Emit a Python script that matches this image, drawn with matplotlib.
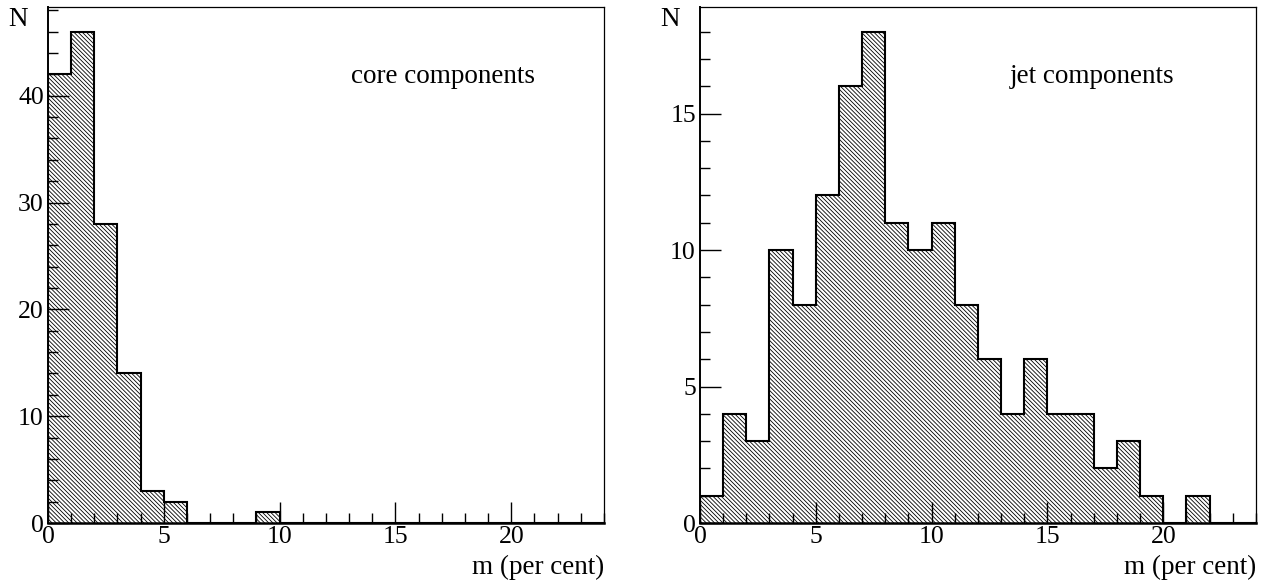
import numpy as np
import matplotlib
matplotlib.use("Agg")
import matplotlib.pyplot as plt
from matplotlib.ticker import MultipleLocator

plt.rcParams['font.family'] = ['Liberation Serif', 'DejaVu Serif']
plt.rcParams['hatch.linewidth'] = 0.6

# bin edges: width 1, from 0 to 24 (per cent)
edges = np.arange(0, 25, 1)

core_counts = [42, 46, 28, 14, 3, 2, 0, 0, 0, 1, 0, 0,
               0, 0, 0, 0, 0, 0, 0, 0, 0, 0, 0, 0]
jet_counts = [1, 4, 3, 10, 8, 12, 16, 18, 11, 10, 11, 8,
              6, 4, 6, 4, 4, 2, 3, 1, 0, 1, 0, 0]

labels = ["core components", "jet components"]
label_x = [0.545, 0.557]
y_major = [10, 5]
y_minor = [2, 1]

fig = plt.figure(figsize=(12.72, 5.83), dpi=100)
ax1 = fig.add_axes([0.0377, 0.1029, 0.4371, 0.885])
ax2 = fig.add_axes([0.5503, 0.1029, 0.4371, 0.885])

hatch = '\\' * 8

for ax, counts, lab, lx, ymaj, ymin in zip([ax1, ax2], [core_counts, jet_counts],
                                           labels, label_x, y_major, y_minor):
    counts = np.array(counts)
    # hatched fill
    ax.stairs(counts, edges, fill=True, facecolor='white', edgecolor='black',
              hatch=hatch, linewidth=0)
    # outline
    ax.stairs(counts, edges, color='black', linewidth=1.5, baseline=0)

    ax.set_xlim(0, 24)
    ax.set_ylim(0, counts.max() * 1.05)
    ax.xaxis.set_major_locator(MultipleLocator(5))
    ax.xaxis.set_minor_locator(MultipleLocator(1))
    ax.yaxis.set_major_locator(MultipleLocator(ymaj))
    ax.yaxis.set_minor_locator(MultipleLocator(ymin))
    ax.tick_params(which='both', direction='in', top=False, right=False,
                   labelsize=18.5, width=1)
    ax.tick_params(which='major', length=15)
    ax.tick_params(which='minor', length=7)
    ax.tick_params(axis='x', pad=2)
    ax.tick_params(axis='y', pad=3)

    ax.spines['top'].set_linewidth(0.9)
    ax.spines['right'].set_linewidth(0.9)
    ax.spines['left'].set_linewidth(1.4)
    ax.spines['bottom'].set_linewidth(1.8)

    ax.text(lx, 0.866, lab, transform=ax.transAxes, fontsize=19.5,
            ha='left', va='center')
    ax.text(-0.072, 0.975, "N", transform=ax.transAxes, fontsize=19.5,
            ha='left', va='center')
    ax.text(1.0, -0.087, "m (per cent)", transform=ax.transAxes, fontsize=19.5,
            ha='right', va='center')

fig.savefig("out.png", dpi=100)
